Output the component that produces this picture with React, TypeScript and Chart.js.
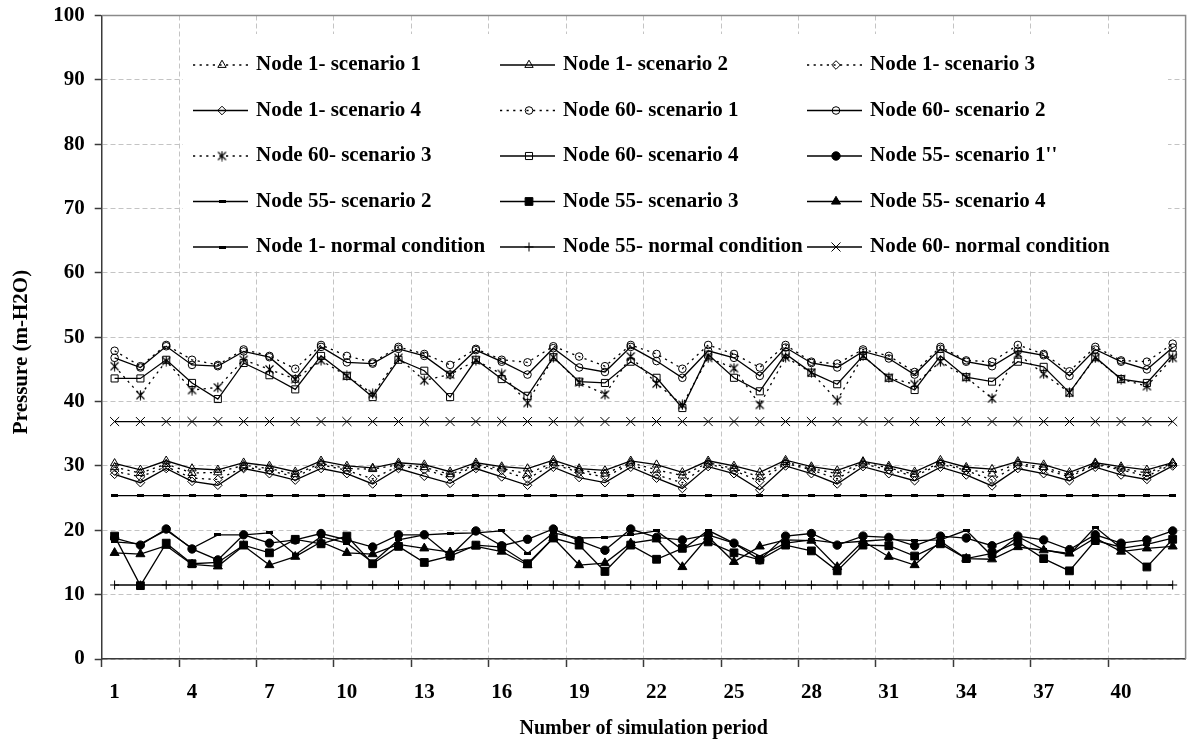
import React, { useEffect, useRef } from 'react';
import { Chart, registerables } from 'chart.js';
import { drawPoint } from 'chart.js/helpers';

Chart.register(...registerables);

// ---------- data ----------
const categories = ['1','2','3','4','5','6','7','8','9','10','11','12','13','14','15','16','17','18','19','20','21','22','23','24','25','26','27','28','29','30','31','32','33','34','35','36','37','38','39','40','41','42'];

const node1Scenario1 = [29.8,28.9,30.3,28.9,29.0,30.1,29.6,28.7,30.4,29.6,29.5,30.2,29.8,28.7,30.2,29.6,28.8,30.5,29.3,28.8,30.5,29.4,28.5,30.5,29.6,28.3,30.6,29.6,28.8,30.5,29.7,28.7,30.5,29.5,28.8,30.4,29.8,28.6,30.3,29.6,28.9,30.4];
const node1Scenario2 = [30.4,29.4,30.8,29.6,29.4,30.5,30.0,29.1,30.8,30.0,29.7,30.5,30.2,29.1,30.5,29.9,29.6,30.9,29.6,29.3,30.8,30.2,29.0,30.8,30.0,29.0,30.9,29.9,29.3,30.7,30.0,29.1,30.9,29.8,29.5,30.7,30.2,29.0,30.5,29.9,29.4,30.5];
const node1Scenario3 = [29.2,28.3,29.9,28.1,27.9,29.8,29.3,28.3,30.2,29.3,28.0,30.0,29.4,28.3,30.0,29.3,28.0,30.3,29.0,28.3,30.3,28.6,27.4,30.3,29.3,27.6,30.4,29.4,28.0,30.3,29.4,28.4,30.3,29.3,27.8,30.2,29.5,28.3,30.2,29.4,28.4,30.3];
const node1Scenario4 = [28.7,27.4,29.6,27.6,27.0,29.6,28.8,27.8,29.6,28.8,27.2,29.6,28.4,27.3,29.6,28.3,27.0,29.8,28.2,27.4,29.8,28.1,26.5,29.9,28.8,26.3,30.0,28.8,27.2,29.9,28.8,27.7,29.8,28.6,26.9,29.6,28.8,27.7,29.8,28.6,27.9,30.0];

const node60Scenario1 = [47.9,45.5,48.8,46.5,45.7,48.1,47.1,45.1,48.8,47.1,46.1,48.5,47.4,45.7,48.2,46.5,46.1,48.6,47.0,45.5,48.8,47.4,45.1,48.8,47.4,45.3,48.8,46.2,45.9,48.1,47.1,44.6,48.5,46.4,46.2,48.8,47.4,44.7,48.5,46.4,46.2,49.0];
const node60Scenario2 = [46.8,45.3,48.6,45.7,45.5,47.8,46.9,43.5,48.5,46.1,45.9,48.2,47.1,44.2,48.0,46.2,44.2,48.3,45.3,44.6,48.5,46.3,43.7,47.9,46.8,44.0,48.4,46.0,45.3,47.8,46.7,44.2,48.2,46.2,45.5,47.9,47.2,44.0,48.1,46.2,45.0,48.4];
const node60Scenario3 = [45.5,41.0,46.3,41.8,42.2,46.5,45.0,43.5,46.4,44.0,41.2,46.8,43.3,44.2,46.4,44.3,39.8,46.9,43.0,41.1,47.0,42.8,39.5,46.8,45.2,39.5,46.9,44.5,40.2,47.1,43.7,42.7,46.2,43.8,40.5,47.4,44.3,41.4,46.8,43.5,42.4,46.8];
const node60Scenario4 = [43.6,43.6,46.5,42.9,40.4,46.0,44.1,41.9,47.1,44.0,40.7,46.5,44.8,40.7,46.5,43.5,40.9,46.9,43.1,42.9,46.2,43.7,39.0,47.3,43.7,41.6,47.4,44.5,42.7,47.1,43.7,41.8,47.1,43.8,43.1,46.2,45.4,41.4,46.9,43.5,42.9,47.3];

const node55Scenario1 = [18.8,17.7,20.2,17.1,15.4,19.3,18.0,18.5,19.5,18.5,17.4,19.3,19.3,16.0,19.9,17.6,18.6,20.2,18.4,16.9,20.2,18.9,18.5,19.3,18.0,15.4,19.1,19.5,17.7,19.1,18.9,17.6,19.1,18.8,17.6,19.1,18.5,17.0,19.3,18.0,18.5,19.9];
const node55Scenario2 = [18.2,17.9,20.0,17.2,19.3,19.3,19.6,16.2,19.0,18.0,15.0,18.5,19.3,19.5,19.6,19.9,16.4,19.6,18.8,18.9,19.3,19.9,17.0,20.0,18.0,16.0,18.0,18.5,18.0,18.3,18.6,18.4,18.5,20.0,16.0,19.0,17.0,16.2,20.5,17.2,17.8,18.8];
const node55Scenario3 = [19.1,11.4,18.0,14.8,15.0,17.7,16.5,18.6,17.9,19.1,14.8,17.5,15.0,16.0,17.7,17.4,14.8,18.8,17.7,13.6,17.7,15.5,17.2,18.2,16.5,15.4,17.7,16.8,13.7,17.7,17.6,16.0,17.9,15.6,16.4,18.2,15.6,13.7,18.4,17.4,14.3,18.6];
const node55Scenario4 = [16.5,16.3,17.6,14.7,14.4,17.6,14.6,15.9,18.2,16.5,16.3,17.8,17.2,16.6,17.5,16.7,14.6,18.8,14.6,14.9,18.0,18.6,14.3,19.0,15.1,17.5,18.5,18.4,14.3,18.3,15.9,14.6,18.3,15.6,15.5,17.4,16.9,16.4,18.8,16.7,17.2,17.5];

const node1Normal = [25.4,25.4,25.4,25.4,25.4,25.4,25.4,25.4,25.4,25.4,25.4,25.4,25.4,25.4,25.4,25.4,25.4,25.4,25.4,25.4,25.4,25.4,25.4,25.4,25.4,25.4,25.4,25.4,25.4,25.4,25.4,25.4,25.4,25.4,25.4,25.4,25.4,25.4,25.4,25.4,25.4,25.4];
const node55Normal = [11.5,11.5,11.5,11.5,11.5,11.5,11.5,11.5,11.5,11.5,11.5,11.5,11.5,11.5,11.5,11.5,11.5,11.5,11.5,11.5,11.5,11.5,11.5,11.5,11.5,11.5,11.5,11.5,11.5,11.5,11.5,11.5,11.5,11.5,11.5,11.5,11.5,11.5,11.5,11.5,11.5,11.5];
const node60Normal = [36.9,36.9,36.9,36.9,36.9,36.9,36.9,36.9,36.9,36.9,36.9,36.9,36.9,36.9,36.9,36.9,36.9,36.9,36.9,36.9,36.9,36.9,36.9,36.9,36.9,36.9,36.9,36.9,36.9,36.9,36.9,36.9,36.9,36.9,36.9,36.9,36.9,36.9,36.9,36.9,36.9,36.9];

const yTicks = { min: 0, max: 100, step: 10 };
const xAxisTitle = 'Number of simulation period';
const yAxisTitle = 'Pressure (m-H2O)';

// ---------- styling ----------
const FONT = '"Liberation Serif", "Times New Roman", serif';
const GRID = '#c4c4c4';
const AXIS = '#3a3a3a';
const DOT = [2.2, 4.4];
const NONE = 'rgba(0,0,0,0)';

function makeAsterisk(): HTMLCanvasElement {
  const c = document.createElement('canvas');
  c.width = 11; c.height = 11;
  const g = c.getContext('2d')!;
  g.strokeStyle = '#000'; g.lineWidth = 1.1;
  g.beginPath();
  g.moveTo(5.5, 0.5); g.lineTo(5.5, 10.5);
  g.moveTo(1.5, 1.5); g.lineTo(9.5, 9.5);
  g.moveTo(9.5, 1.5); g.lineTo(1.5, 9.5);
  g.stroke();
  return c;
}
function makeDash(): HTMLCanvasElement {
  const c = document.createElement('canvas');
  c.width = 7; c.height = 3;
  const g = c.getContext('2d')!;
  g.fillStyle = '#000';
  g.fillRect(0, 0, 7, 3);
  return c;
}

const legendLayout = {
  box: { x: 183, y: 34, w: 985, h: 236 },
  colX: [193, 500, 807],
  rowY: [65, 110.5, 156, 201.5, 247],
  lineLen: 55,
  markerOff: 29,
  textOff: 63,
};
const yTitlePos = { x: 22, y: 352 };

const legendPlugin = {
  id: 'customLegend',
  afterDraw(chart: any) {
    const ctx: CanvasRenderingContext2D = chart.ctx;
    const L = legendLayout;
    ctx.save();
    ctx.fillStyle = '#fff';
    ctx.fillRect(L.box.x, L.box.y, L.box.w, L.box.h);
    chart.data.datasets.forEach((ds: any, i: number) => {
      const col = i % 3, row = Math.floor(i / 3);
      const x0 = L.colX[col], y = L.rowY[row];
      ctx.strokeStyle = '#000';
      ctx.lineWidth = ds.borderWidth;
      ctx.setLineDash(ds.borderDash || []);
      ctx.beginPath();
      ctx.moveTo(x0, y); ctx.lineTo(x0 + L.lineLen, y);
      ctx.stroke();
      ctx.setLineDash([]);
      ctx.fillStyle = ds.pointBackgroundColor;
      ctx.strokeStyle = '#000';
      ctx.lineWidth = 1;
      drawPoint(ctx, { pointStyle: ds.pointStyle, radius: ds.pointRadius, rotation: 0, borderWidth: 1 } as any, x0 + L.markerOff, y);
      ctx.fillStyle = '#000';
      ctx.font = `bold 21px ${FONT}`;
      ctx.textBaseline = 'middle';
      ctx.textAlign = 'left';
      ctx.fillText(ds.label, x0 + L.textOff, y);
    });
    // y-axis title
    ctx.translate(yTitlePos.x, yTitlePos.y);
    ctx.rotate(-Math.PI / 2);
    ctx.font = `bold 21px ${FONT}`;
    ctx.fillStyle = '#000';
    ctx.textAlign = 'center';
    ctx.textBaseline = 'middle';
    ctx.fillText(yAxisTitle, 0, 0);
    ctx.restore();
  },
};

const framePlugin = {
  id: 'frame',
  beforeDatasetsDraw(chart: any) {
    const { ctx, chartArea: a } = chart;
    ctx.save();
    ctx.strokeStyle = '#8a8a8a';
    ctx.lineWidth = 1.5;
    ctx.beginPath();
    ctx.moveTo(a.left, a.top); ctx.lineTo(a.right, a.top); ctx.lineTo(a.right, a.bottom);
    ctx.stroke();
    ctx.restore();
  },
};

export default function App() {
  const ref = useRef<HTMLCanvasElement | null>(null);
  useEffect(() => {
    document.body.style.margin = '0';
    const asterisk = makeAsterisk();
    const dash = makeDash();
    const mk = (label: string, data: number[], dotted: boolean, pointStyle: any, radius: number, filled: boolean) => ({
      label, data,
      borderColor: '#000',
      borderWidth: 1.3,
      borderDash: dotted ? DOT : [],
      pointStyle,
      pointRadius: radius,
      pointBorderColor: '#000',
      pointBorderWidth: 1,
      pointBackgroundColor: filled ? '#000' : NONE,
      fill: false,
      tension: 0,
    });
    const datasets = [
      mk('Node 1- scenario 1', node1Scenario1, true, 'triangle', 4.8, false),
      mk('Node 1- scenario 2', node1Scenario2, false, 'triangle', 4.8, false),
      mk('Node 1- scenario 3', node1Scenario3, true, 'rectRot', 4.3, false),
      mk('Node 1- scenario 4', node1Scenario4, false, 'rectRot', 4.3, false),
      mk('Node 60- scenario 1', node60Scenario1, true, 'circle', 3.8, false),
      mk('Node 60- scenario 2', node60Scenario2, false, 'circle', 3.8, false),
      mk('Node 60- scenario 3', node60Scenario3, true, asterisk, 5, false),
      mk('Node 60- scenario 4', node60Scenario4, false, 'rect', 5, false),
      mk("Node 55- scenario 1''", node55Scenario1, false, 'circle', 4.2, true),
      mk('Node 55- scenario 2', node55Scenario2, false, dash, 4, true),
      mk('Node 55- scenario 3', node55Scenario3, false, 'rect', 5.5, true),
      mk('Node 55- scenario 4', node55Scenario4, false, 'triangle', 5.2, true),
      mk('Node 1- normal condition', node1Normal, false, dash, 4, true),
      mk('Node 55- normal condition', node55Normal, false, 'cross', 4.5, false),
      mk('Node 60- normal condition', node60Normal, false, 'crossRot', 6.4, false),
    ];
    const chart = new Chart(ref.current!, {
      type: 'line',
      data: { labels: categories, datasets },
      options: {
        animation: false,
        responsive: false,
        devicePixelRatio: 1,
        layout: { padding: { top: 15.5, right: 4.7, bottom: 0, left: 0 } },
        plugins: { legend: { display: false }, tooltip: { enabled: false } },
        scales: {
          x: {
            type: 'category',
            offset: true,
            afterFit: (s: any) => { s.height = 95; s.paddingLeft = 0; s.paddingRight = 0; },
            grid: {
              offset: true,
              color: (c: any) => (c.index % 3 === 0 ? GRID : NONE),
              tickColor: (c: any) => (c.index % 3 === 0 ? AXIS : NONE),
              tickLength: 8,
              tickWidth: 1.5,
              lineWidth: 1,
            },
            border: { display: true, color: AXIS, width: 1.5, dash: [5, 3] },
            ticks: {
              autoSkip: false,
              maxRotation: 0,
              minRotation: 0,
              padding: 13,
              color: '#000',
              font: { family: FONT, size: 21, weight: 'bold' },
              callback: (_v: any, i: number) => (i % 3 === 0 ? categories[i] : ''),
            },
            title: {
              display: true,
              text: xAxisTitle,
              color: '#000',
              font: { family: FONT, size: 20, weight: 'bold' },
              padding: { top: 0, bottom: 13 },
            },
          },
          y: {
            min: yTicks.min,
            max: yTicks.max,
            afterFit: (s: any) => { s.width = 101.7; s.paddingTop = 0; s.paddingBottom = 0; },
            grid: { color: GRID, tickColor: AXIS, tickLength: 7, tickWidth: 1.5, lineWidth: 1 },
            border: { display: true, color: AXIS, width: 1.5, dash: [5, 3] },
            ticks: {
              stepSize: yTicks.step,
              padding: 10,
              color: '#000',
              font: { family: FONT, size: 21, weight: 'bold' },
            },
            title: { display: false, text: yAxisTitle },
          },
        },
      } as any,
      plugins: [framePlugin, legendPlugin],
    });
    return () => chart.destroy();
  }, []);
  return (
    <div style={{ width: 1193, height: 754, background: '#fff' }}>
      <canvas ref={ref} width={1193} height={754} style={{ display: 'block' }} />
    </div>
  );
}
